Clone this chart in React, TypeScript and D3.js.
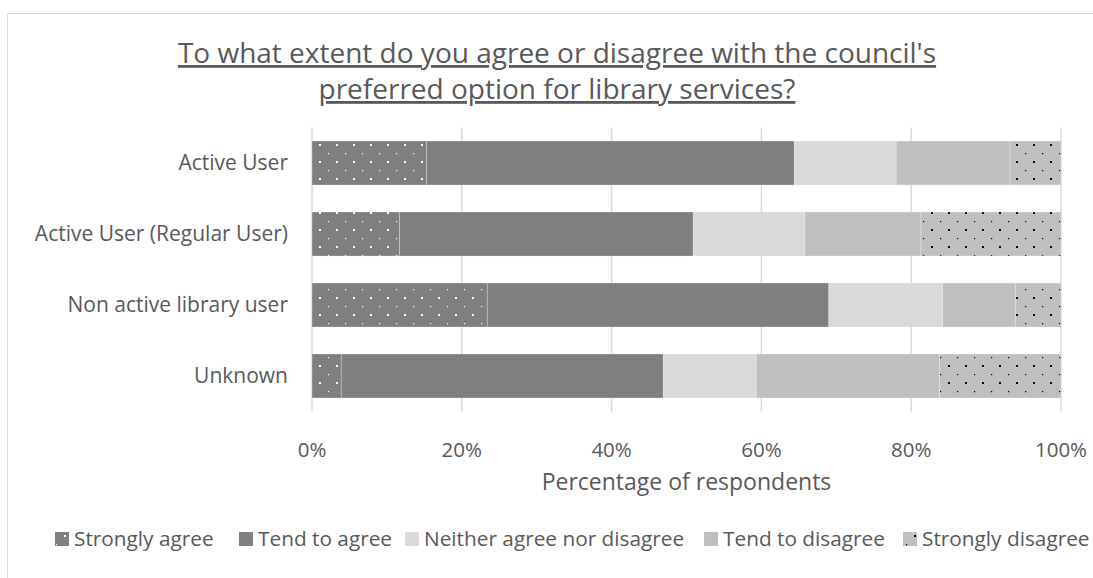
import React from "react";
import * as d3 from "d3";

const categories = [
  "Active User",
  "Active User (Regular User)",
  "Non active library user",
  "Unknown",
];
const seriesNames = [
  "Strongly agree",
  "Tend to agree",
  "Neither agree nor disagree",
  "Tend to disagree",
  "Strongly disagree",
];
const stronglyAgree = [15.3, 11.7, 23.4, 3.9];
const tendToAgree = [49.1, 39.2, 45.6, 43.0];
const neitherAgree = [13.6, 14.9, 15.2, 12.4];
const tendToDisagree = [15.2, 15.5, 9.7, 24.5];
const stronglyDisagree = [6.8, 18.7, 6.1, 16.2];
const xTicks = [0, 20, 40, 60, 80, 100];
const titleLines = [
  "To what extent do you agree or disagree with the council's",
  "preferred option for library services?",
];
const xAxisTitle = "Percentage of respondents";

const W = 1093;
const H = 578;
const FONT = "'Open Sans', sans-serif";
const TEXT = "#595959";
const GRID = "#d9d9d9";

const fills = [
  "url(#dotsWhite)",
  "#7f7f7f",
  "#d9d9d9",
  "#bfbfbf",
  "url(#dotsBlack)",
];
const legendSwatchX = [55, 239, 405, 704, 903];

export default function App() {
  const rows = categories.map((c, i) => ({
    category: c,
    [seriesNames[0]]: stronglyAgree[i],
    [seriesNames[1]]: tendToAgree[i],
    [seriesNames[2]]: neitherAgree[i],
    [seriesNames[3]]: tendToDisagree[i],
    [seriesNames[4]]: stronglyDisagree[i],
  }));
  const stacked = d3.stack<any>().keys(seriesNames)(rows);

  const x = d3.scaleLinear().domain([0, 100]).range([312, 1061]);
  const y = d3
    .scaleBand<string>()
    .domain(categories)
    .range([127.5, 411.5])
    .paddingInner(0.38)
    .paddingOuter(0.19);

  const [y0, y1] = y.range();

  return (
    <svg
      width={W}
      height={H}
      style={{ position: "absolute", left: 0, top: 0, background: "#fff" }}
      fontFamily={FONT}
    >
      <defs>
        <pattern
          id="dotsWhite"
          patternUnits="userSpaceOnUse"
          x={14}
          y={9}
          width={17}
          height={17}
        >
          <rect width={17} height={17} fill="#7f7f7f" />
          <rect x={-1} y={-1} width={2} height={2} fill="#fff" />
          <rect x={16} y={-1} width={2} height={2} fill="#fff" />
          <rect x={-1} y={16} width={2} height={2} fill="#fff" />
          <rect x={16} y={16} width={2} height={2} fill="#fff" />
          <rect x={8} y={8} width={1.2} height={1.2} fill="#fff" />
        </pattern>
        <pattern
          id="dotsBlack"
          patternUnits="userSpaceOnUse"
          x={14}
          y={9}
          width={17}
          height={17}
        >
          <rect width={17} height={17} fill="#bfbfbf" />
          <rect x={-1} y={-1} width={2} height={2} fill="#000" />
          <rect x={16} y={-1} width={2} height={2} fill="#000" />
          <rect x={-1} y={16} width={2} height={2} fill="#000" />
          <rect x={16} y={16} width={2} height={2} fill="#000" />
          <rect x={8} y={8} width={1.2} height={1.2} fill="#000" />
        </pattern>
      </defs>

      {/* chart border */}
      <line x1={7.5} y1={13.5} x2={W} y2={13.5} stroke={GRID} strokeWidth={1} />
      <line x1={7.5} y1={13.5} x2={7.5} y2={H} stroke={GRID} strokeWidth={1} />

      {/* title */}
      {titleLines.map((t, i) => (
        <text
          key={i}
          x={557}
          y={63 + i * 36}
          textAnchor="middle"
          fontSize={28}
          fill={TEXT}
          textDecoration="underline"
        >
          {t}
        </text>
      ))}

      {/* gridlines */}
      {xTicks.map((t) => (
        <line
          key={t}
          x1={x(t)}
          x2={x(t)}
          y1={y0}
          y2={y1}
          stroke={GRID}
          strokeWidth={1.5}
        />
      ))}

      {/* bars */}
      {stacked.map((s, si) => (
        <g key={s.key}>
          {s.map((d, i) => (
            <rect
              key={i}
              x={x(d[0])}
              y={y(categories[i])}
              width={x(d[1]) - x(d[0])}
              height={y.bandwidth()}
              fill={fills[si]}
              stroke="#ffffff"
              strokeOpacity={0.35}
              strokeWidth={0.75}
            />
          ))}
        </g>
      ))}

      {/* category labels */}
      {categories.map((c) => (
        <text
          key={c}
          x={288}
          y={(y(c) as number) + y.bandwidth() / 2}
          dy="0.35em"
          textAnchor="end"
          fontSize={21}
          fill={TEXT}
        >
          {c}
        </text>
      ))}

      {/* x tick labels */}
      {xTicks.map((t) => (
        <text
          key={t}
          x={x(t)}
          y={457}
          textAnchor="middle"
          fontSize={20.5}
          fill={TEXT}
        >
          {t + "%"}
        </text>
      ))}

      <text
        x={(x(0) + x(100)) / 2}
        y={490}
        textAnchor="middle"
        fontSize={23}
        fill={TEXT}
      >
        {xAxisTitle}
      </text>

      {/* legend */}
      {seriesNames.map((n, i) => (
        <g key={n}>
          <rect
            x={legendSwatchX[i]}
            y={532}
            width={14}
            height={14}
            fill={fills[i]}
          />
          <text
            x={legendSwatchX[i] + 19}
            y={546}
            fontSize={20.8}
            fill={TEXT}
          >
            {n}
          </text>
        </g>
      ))}
    </svg>
  );
}
